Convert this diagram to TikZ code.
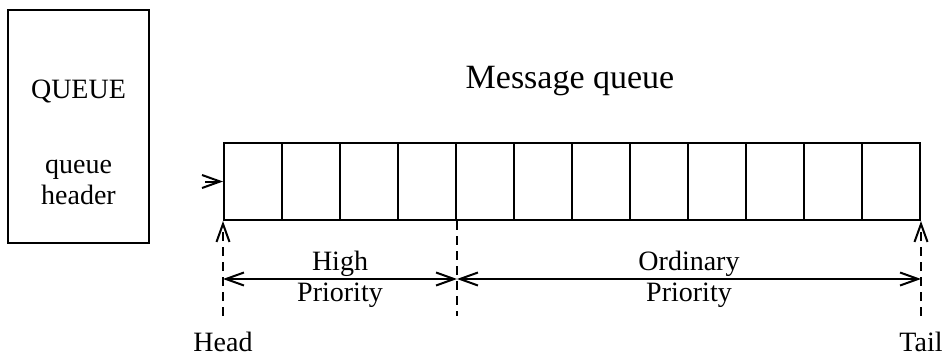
\documentclass[tikz,border=0pt]{standalone}
\usepackage{fontspec}
\setmainfont{Liberation Serif}
\usetikzlibrary{arrows.meta, positioning}
\tikzset{
  cell/.style={rectangle, draw=black, line width=1pt, minimum width=29pt, minimum height=38.5pt, inner sep=0pt},
  hdr/.style={rectangle, draw=black, line width=1pt, minimum width=70.5pt, minimum height=116.5pt},
  lbl/.style={font=\fontsize{14}{15.5}\selectfont, align=center, inner sep=0pt}
}
\tikzstyle{arrow} = [line width=1pt, black, -{Straight Barb[length=9pt,width=6.5pt]}]
\tikzstyle{darrow} = [line width=1pt, black, {Straight Barb[length=9pt,width=6.5pt]}-{Straight Barb[length=9pt,width=6.5pt]}]
\tikzstyle{guide} = [line width=1pt, black, dash pattern=on 4.5pt off 3pt]

\begin{document}
\begin{tikzpicture}[x=0.5pt, y=-0.5pt]
    \useasboundingbox (0,0) rectangle (947,360);
    \node [hdr] (box) at (78.5,126.5) {};
    \node [lbl] (q) at (78.5,91) {QUEUE};
    \node [lbl] (qh) at (78.5,182) {queue\\header};
    \node [lbl, font=\fontsize{17}{20}\selectfont] (title) at (570,81) {Message queue};

    \foreach \i in {1,...,12}
        \node [cell] (c\i) at ({253+58*(\i-1)},181.5) {};

    \coordinate [left=9pt of c1.west] (in);
    \draw [arrow] (in) -- (c1.west);

    \coordinate [below=47.5pt of c1.south west] (hb);
    \coordinate [below=47.5pt of c4.south east] (mb);
    \coordinate [below=47.5pt of c12.south east] (tb);
    \coordinate [below=29pt of c1.south west] (h1);
    \coordinate [below=29pt of c4.south east] (m1);
    \coordinate [below=29pt of c12.south east] (t1);

    \draw [guide, arrow] (hb) -- (c1.south west);
    \draw [guide] (c4.south east) -- (mb);
    \draw [guide, arrow] (tb) -- (c12.south east);

    \draw [darrow] (h1) -- node [lbl] {High\\Priority} (m1);
    \draw [darrow] (m1) -- node [lbl] {Ordinary\\Priority} (t1);

    \node [lbl, below=8pt of hb] (head) {Head};
    \node [lbl, below=8pt of tb] (tail) {Tail};
\end{tikzpicture}
\end{document}
